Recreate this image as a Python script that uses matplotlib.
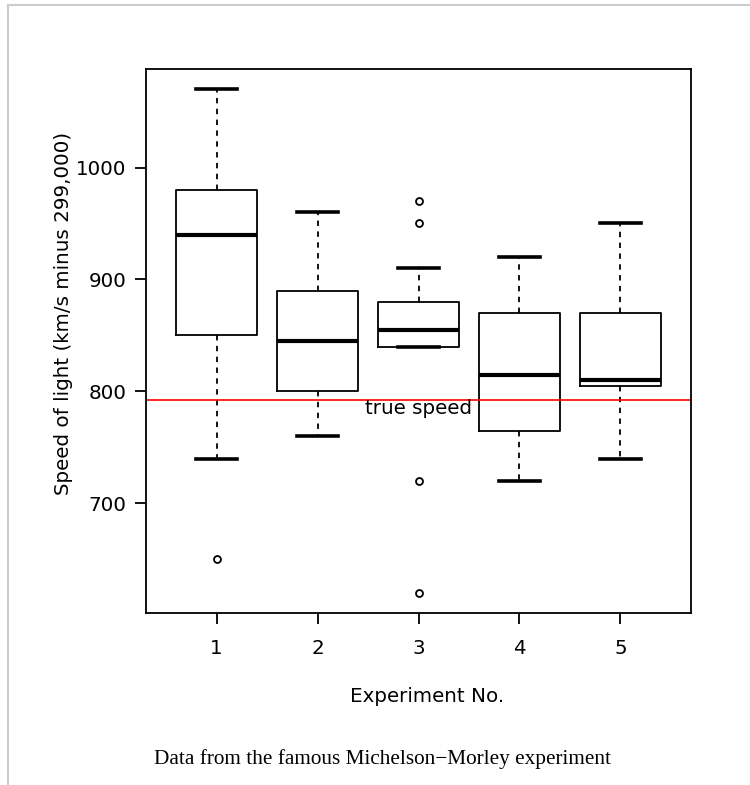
import matplotlib
matplotlib.use("Agg")
import matplotlib.pyplot as plt
from matplotlib.lines import Line2D

experiments = [1, 2, 3, 4, 5]
whisker_low = [740, 760, 840, 720, 740]
q1 = [850, 800, 840, 765, 805]
medians = [940, 845, 855, 815, 810]
q3 = [980, 890, 880, 870, 870]
whisker_high = [1070, 960, 910, 920, 950]
outliers = [[650], [], [620, 720, 950, 970], [], []]
true_speed = 792.458
yticks = [700, 800, 900, 1000]

FS = 14.3

fig = plt.figure(figsize=(7.5, 7.85), dpi=100)
ax = fig.add_axes([146/750, 1-613/785, (691-146)/750, (613-69)/785])

stats = []
for i in range(len(experiments)):
    stats.append(dict(med=medians[i], q1=q1[i], q3=q3[i],
                      whislo=whisker_low[i], whishi=whisker_high[i],
                      fliers=outliers[i], label=str(experiments[i])))

ax.bxp(stats, positions=experiments, widths=0.8, showfliers=True,
       boxprops=dict(color='black', linewidth=1.3),
       medianprops=dict(color='black', linewidth=3),
       whiskerprops=dict(color='black', linewidth=1.3, linestyle=(0, (3, 3))),
       capprops=dict(color='black', linewidth=2.6),
       flierprops=dict(marker='o', markerfacecolor='none', markeredgecolor='black',
                       markersize=5, markeredgewidth=1.3),
       capwidths=0.4)

ax.axhline(true_speed, color='red', linewidth=1.2)
ax.text(3, 784.8, "true speed", ha='center', va='center', fontsize=FS,
        family='DejaVu Sans')

ax.set_xlim(0.3, 5.7)
ax.set_ylim(602, 1088)
ax.set_yticks(yticks)
ax.set_yticklabels([str(v) for v in yticks])
ax.set_xticks(experiments)
ax.set_xticklabels([str(e) for e in experiments])
ax.tick_params(labelsize=FS, length=8, width=1.3)
ax.tick_params(axis='x', pad=11)
ax.tick_params(axis='y', pad=6)
for s in ax.spines.values():
    s.set_linewidth(1.3)

ax.set_xlabel("Experiment No.", fontsize=FS)
ax.xaxis.set_label_coords(0.5156, -0.136)
ax.set_ylabel("Speed of light (km/s minus 299,000)", fontsize=FS)
ax.yaxis.set_label_coords(-0.134, 0.5515)

fig.text(382/750, 1-759/785, "Data from the famous Michelson\u2212Morley experiment",
         ha='center', va='center', fontsize=15.3, family='Liberation Serif')

fig.add_artist(Line2D([8/750, 1], [1-5/785, 1-5/785], color='#cccccc', linewidth=1.5,
                      transform=fig.transFigure))
fig.add_artist(Line2D([8/750, 8/750], [0, 1-5/785], color='#cccccc', linewidth=1.5,
                      transform=fig.transFigure))

fig.savefig("out.png", dpi=100)
